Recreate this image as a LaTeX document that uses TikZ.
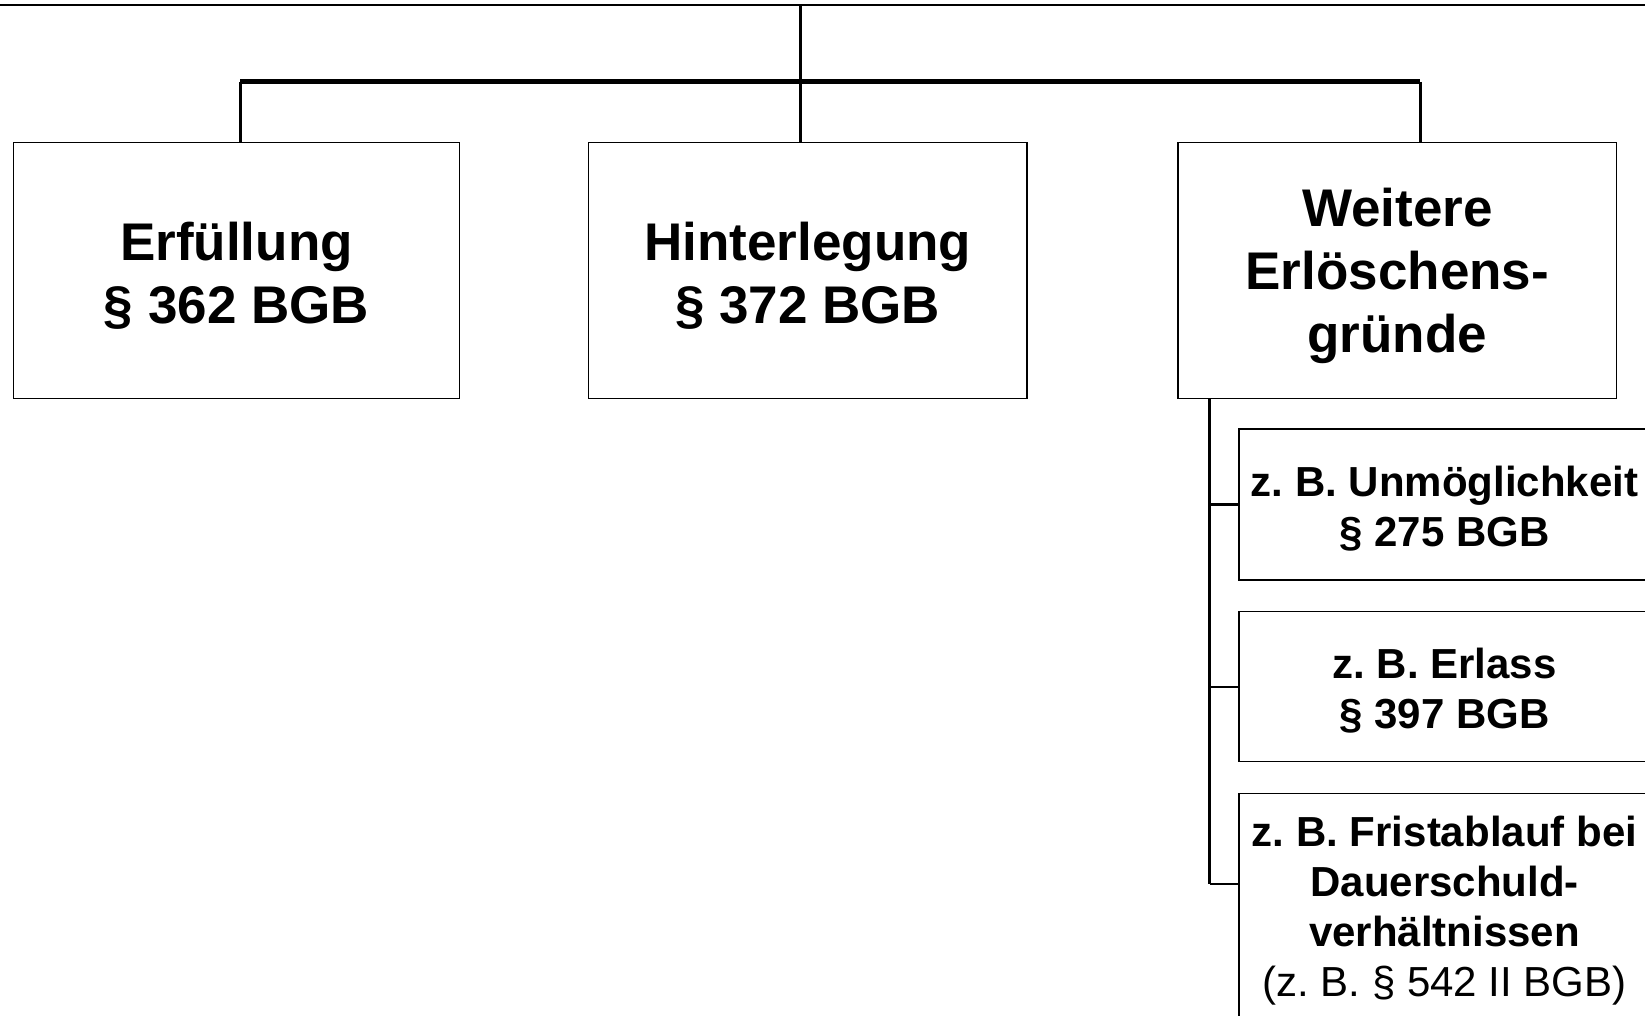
\documentclass[tikz,border=0pt]{standalone}
\usepackage{fontspec}
\setmainfont{Liberation Sans}
\newcommand\mybiglift{\rule{0pt}{49pt}}
\newcommand\mysmalllift{\rule{0pt}{38pt}}
\begin{document}
\begin{tikzpicture}[x=1pt,y=-1pt,
  box/.style={draw, line width=1.3pt, inner sep=0pt, align=center, fill=white},
  bigbox/.style={box, minimum height=256pt, font=\fontsize{53}{63}\selectfont\bfseries},
  smallbox/.style={box, minimum width=411pt, font=\fontsize{42}{50}\selectfont\bfseries},
  conn/.style={line width=3pt},
  tickline/.style={line width=2.2pt},
  barline/.style={line width=5pt},
  ]
\useasboundingbox (0,0) rectangle (1645,1016);
% root box (only its bottom edge is visible)
\node[box, line width=2pt, minimum width=1720pt, minimum height=80pt, anchor=south] (root) at (822.5,6.5) {};
% main boxes
\node[bigbox, minimum width=446pt] (b1) at (236.5,270.6) {\mybiglift Erfüllung\\§ 362 BGB};
\node[bigbox, minimum width=438.5pt] (b2) at (807.75,270.6) {\mybiglift Hinterlegung\\§ 372 BGB};
\node[bigbox, minimum width=438.6pt] (b3) at (1397.3,270.6) {\mybiglift Weitere\\Erlöschens-\\gründe};
% sub boxes
\node[smallbox, minimum height=151pt] (sa) at (1444.5,504.5) {\mysmalllift z.~B. Unmöglichkeit\\§ 275 BGB};
\node[smallbox, minimum height=150pt] (sbx) at (1444.5,686.6) {\mysmalllift z.~B. Erlass\\§ 397 BGB};
\node[smallbox, inner ysep=22pt, anchor=north] (sc) at (1444.5,793) {z.~B. Fristablauf bei\\Dauerschuld-\\verhältnissen\\{\mdseries (z.~B. § 542 II BGB)}};
% connectors
\coordinate (bl) at (240,82);
\coordinate (bm) at (800,82);
\coordinate (br) at (1420,82);
\draw[conn] (root.south -| bm) -- (b2.north -| bm);
\draw[barline] (bl) -- (br);
\draw[conn] (bl) -- (bl |- b1.north);
\draw[conn] (br) -- (br |- b3.north);
\coordinate (sb) at (1209.5,884);
\draw[conn] (b3.south -| sb) -- (sb);
\draw[tickline] (sb |- sa.west) -- (sa.west);
\draw[tickline] (sb |- sbx.west) -- (sbx.west);
\draw[tickline] (sb) -- (sb -| sc.west);
\end{tikzpicture}
\end{document}
